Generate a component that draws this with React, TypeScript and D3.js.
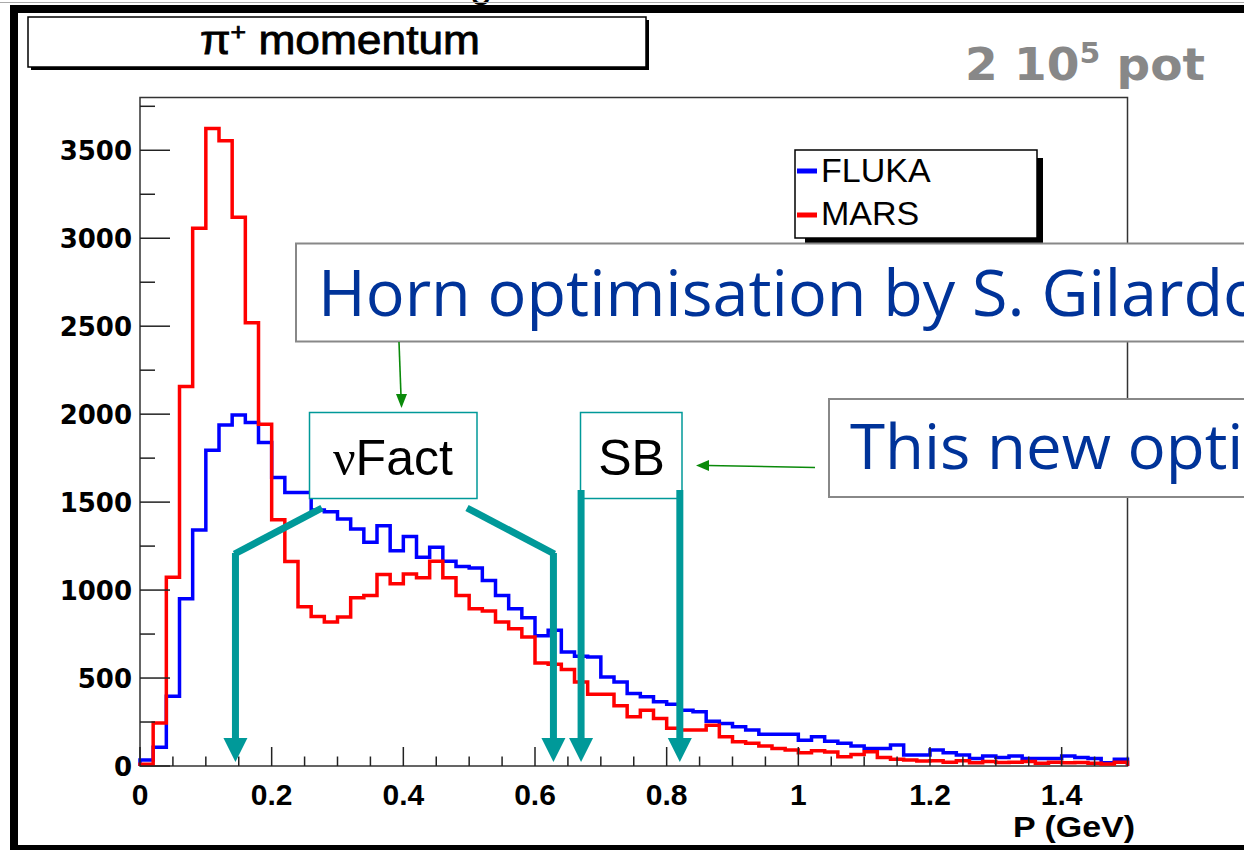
import React from 'react';
import * as d3 from 'd3';

// ---------- data ----------
const binWidth = 0.02; // GeV, 75 bins from 0 to 1.5
const flukaCounts = [
  34, 106, 397, 951, 1342, 1795, 1939, 1995, 1952, 1839,
  1640, 1555, 1555, 1455, 1445, 1404, 1347, 1272, 1366, 1224,
  1304, 1187, 1243, 1164, 1134, 1126, 1054, 969, 894, 843,
  740, 771, 648, 624, 620, 506, 478, 412, 393, 365,
  351, 317, 308, 255, 242, 223, 204, 181, 181, 181,
  147, 166, 140, 129, 113, 100, 100, 119, 62, 62,
  91, 76, 62, 43, 57, 49, 57, 43, 43, 43,
  57, 49, 43, 19, 38,
];
const marsCounts = [
  10, 245, 1073, 2157, 3057, 3624, 3554, 3120, 2519, 1943,
  1400, 1163, 905, 850, 818, 847, 956, 969, 1088, 1036,
  1092, 1070, 1164, 1070, 969, 894, 881, 818, 780, 733,
  586, 578, 549, 478, 408, 408, 342, 280, 317, 270,
  214, 204, 204, 232, 166, 138, 129, 113, 100, 91,
  76, 87, 80, 53, 66, 81, 49, 38, 34, 28,
  30, 22, 30, 18, 25, 20, 22, 25, 15, 22,
  18, 20, 15, 12, 22,
];
const xTickValues = [0, 0.2, 0.4, 0.6, 0.8, 1, 1.2, 1.4];
const xTickLabels = ['0', '0.2', '0.4', '0.6', '0.8', '1', '1.2', '1.4'];
const yTickValues = [0, 500, 1000, 1500, 2000, 2500, 3000, 3500];
const yTickLabels = ['0', '500', '1000', '1500', '2000', '2500', '3000', '3500'];
const seriesNames = ['FLUKA', 'MARS'];
const seriesColors = ['#0000ff', '#ff0000'];
const vFactRange = [0.145, 0.628];
const sbRange = [0.67, 0.82];

const W = 1244;
const H = 850;
const TEAL = '#009999';
const GREEN = '#0a8a0a';

export default function App() {
  const x = d3.scaleLinear().domain([0, 1.5]).range([140, 1127.5]);
  const y = d3.scaleLinear().domain([0, 3800]).range([766, 97.5]);

  const stepPoints = (counts: number[]) => {
    const pts: [number, number][] = [[0, 0]];
    counts.forEach((c, i) => {
      pts.push([i * binWidth, c]);
      pts.push([(i + 1) * binWidth, c]);
    });
    pts.push([counts.length * binWidth, 0]);
    return pts;
  };
  const line = d3
    .line<[number, number]>()
    .x((d) => x(d[0]))
    .y((d) => y(d[1]));

  const xMinor = d3.range(0, 31).map((i) => i * 0.05);
  const yMinor = d3.range(0, 8).map((i) => 250 + i * 500);

  const arrowHead = (cx: number, tipY: number, w: number, h: number, color: string, key: string) => (
    <polygon
      key={key}
      points={`${cx - w / 2},${tipY - h} ${cx + w / 2},${tipY - h} ${cx},${tipY}`}
      fill={color}
    />
  );

  const xa = x(vFactRange[0]);
  const xb = x(vFactRange[1]);
  const xs1 = x(sbRange[0]);
  const xs2 = x(sbRange[1]);

  return (
    <svg
      width={W}
      height={H}
      style={{ position: 'absolute', left: 0, top: 0, display: 'block', overflow: 'hidden' }}
      fontFamily="Liberation Sans, Arial, sans-serif"
    >
      <rect x={0} y={0} width={W} height={H} fill="#ffffff" />
      {/* cut-off text at the very top */}
      <text x={470} y={-3} fontSize={40} fill="#000">g</text>
      <line x1={0} x2={W} y1={2.5} y2={2.5} stroke="#aaa" strokeWidth={1} />
      {/* outer black frame */}
      <rect x={10} y={5} width={W - 10} height={8} fill="#000" />
      <rect x={10} y={5} width={8} height={H - 5} fill="#000" />
      <rect x={10} y={845} width={W - 10} height={6} fill="#000" />

      {/* title box */}
      <rect x={31} y={20} width={618} height={50} fill="#000" />
      <rect x={28} y={17} width={618} height={50} fill="#fff" stroke="#000" strokeWidth={1.5} />
      <text
        x={200}
        y={54}
        fontSize={40}
        stroke="#000"
        strokeWidth={0.8}
        textLength={280}
        lengthAdjust="spacingAndGlyphs"
      >
        <tspan>π</tspan>
        <tspan fontSize={24} dy={-14}>+</tspan>
        <tspan dy={14}> momentum</tspan>
      </text>

      {/* 2 10^5 pot */}
      <text
        x={965}
        y={80}
        fontFamily="DejaVu Sans, Verdana, sans-serif"
        fontWeight="bold"
        fontSize={44}
        fill="#888888"
        textLength={240}
        lengthAdjust="spacingAndGlyphs"
      >
        <tspan>2 10</tspan>
        <tspan fontSize={28} dy={-17}>5</tspan>
        <tspan dy={17}> pot</tspan>
      </text>

      {/* frame */}
      <rect x={140} y={97.5} width={987.5} height={668.5} fill="none" stroke="#333" strokeWidth={1.5} />

      {/* histograms */}
      {[flukaCounts, marsCounts].map((counts, i) => (
        <path
          key={seriesNames[i]}
          d={line(stepPoints(counts)) || ''}
          fill="none"
          stroke={seriesColors[i]}
          strokeWidth={3.5}
          strokeLinejoin="miter"
        />
      ))}

      {/* x ticks */}
      {xMinor.map((v, i) => {
        const major = i % 4 === 0;
        return (
          <line
            key={'xt' + i}
            x1={x(v)}
            x2={x(v)}
            y1={766}
            y2={766 - (major ? 19 : 9.5)}
            stroke="#222"
            strokeWidth={1.5}
          />
        );
      })}
      {xTickValues.map((v, i) => (
        <text key={'xl' + i} x={x(v)} y={805} fontSize={30} fontWeight="bold" textAnchor="middle">
          {xTickLabels[i]}
        </text>
      ))}
      <text x={1135} y={837} fontSize={29} fontWeight="bold" textAnchor="end" textLength={122} lengthAdjust="spacingAndGlyphs">
        P (GeV)
      </text>

      {/* y ticks */}
      {yTickValues.map((v, i) => (
        <line key={'yt' + i} x1={140} x2={170} y1={y(v)} y2={y(v)} stroke="#222" strokeWidth={1.5} />
      ))}
      {yMinor.map((v, i) => (
        <line key={'ym' + i} x1={140} x2={155} y1={y(v)} y2={y(v)} stroke="#222" strokeWidth={1.5} />
      ))}
      {yTickValues.map((v, i) => (
        <text
          key={'yl' + i}
          x={132}
          y={y(v) + 10}
          fontSize={26}
          fontWeight="bold"
          fontFamily="DejaVu Sans, Verdana, sans-serif"
          textAnchor="end"
        >
          {yTickLabels[i]}
        </text>
      ))}

      {/* legend */}
      <rect x={805} y={158} width={238} height={85} fill="#000" />
      <rect x={795} y={150} width={242} height={88} fill="#fff" stroke="#000" strokeWidth={1.5} />
      {seriesNames.map((name, i) => (
        <g key={'lg' + name}>
          <line
            x1={797}
            x2={817}
            y1={171 + i * 44}
            y2={171 + i * 44}
            stroke={seriesColors[i]}
            strokeWidth={5}
          />
          <text x={821} y={182 + i * 43} fontSize={34} fill="#000">
            {name}
          </text>
        </g>
      ))}

      {/* Horn optimisation box */}
      <rect x={296} y={243.5} width={1000} height={98} fill="#fff" stroke="#888" strokeWidth={2} />
      <text
        x={318}
        y={316}
        fontSize={64}
        fill="#003399"
        fontFamily="Open Sans, Lato, sans-serif"
        textLength={1000}
        lengthAdjust="spacingAndGlyphs"
      >
        Horn optimisation by S. Gilardoni
      </text>

      {/* This new optimisation box */}
      <rect x={829} y={399} width={500} height={98} fill="#fff" stroke="#888" strokeWidth={2} />
      <text
        x={850}
        y={469}
        fontSize={62}
        fill="#003399"
        fontFamily="Open Sans, Lato, sans-serif"
        textLength={650}
        lengthAdjust="spacingAndGlyphs"
      >
        This new optimisation
      </text>

      {/* green arrows */}
      <line x1={399} y1={342} x2={401} y2={396} stroke={GREEN} strokeWidth={1.6} />
      <polygon points="396,394 407,394 401.5,408" fill={GREEN} />
      <line x1={815} y1={467.5} x2={708} y2={465.5} stroke={GREEN} strokeWidth={1.6} />
      <polygon points="709,460 709,471 696,465.5" fill={GREEN} />

      {/* vFact box */}
      <rect x={309.5} y={412.5} width={167.5} height={86} fill="#fff" stroke={TEAL} strokeWidth={1.5} />
      <text x={333} y={475} fontSize={50}>
        <tspan fontFamily="Liberation Serif, Times New Roman, serif">ν</tspan>
        <tspan>Fact</tspan>
      </text>

      {/* SB box */}
      <rect x={580.5} y={412.5} width={101.5} height={86} fill="#fff" stroke={TEAL} strokeWidth={1.5} />
      <text x={631.5} y={475} fontSize={50} textAnchor="middle">
        SB
      </text>

      {/* teal brackets and arrows */}
      <line x1={xa - 1} y1={554} x2={322} y2={508} stroke={TEAL} strokeWidth={7} />
      <line x1={467} y1={508} x2={xb + 1} y2={554} stroke={TEAL} strokeWidth={7} />
      <line x1={xa} x2={xa} y1={553} y2={742} stroke={TEAL} strokeWidth={7} />
      <line x1={xb} x2={xb} y1={553} y2={742} stroke={TEAL} strokeWidth={7} />
      <line x1={xs1} x2={xs1} y1={490} y2={742} stroke={TEAL} strokeWidth={7} />
      <line x1={xs2} x2={xs2} y1={490} y2={742} stroke={TEAL} strokeWidth={7} />
      {[xa, xb, xs1, xs2].map((cx, i) => arrowHead(cx, 762, 24, 24, TEAL, 'ah' + i))}
    </svg>
  );
}
